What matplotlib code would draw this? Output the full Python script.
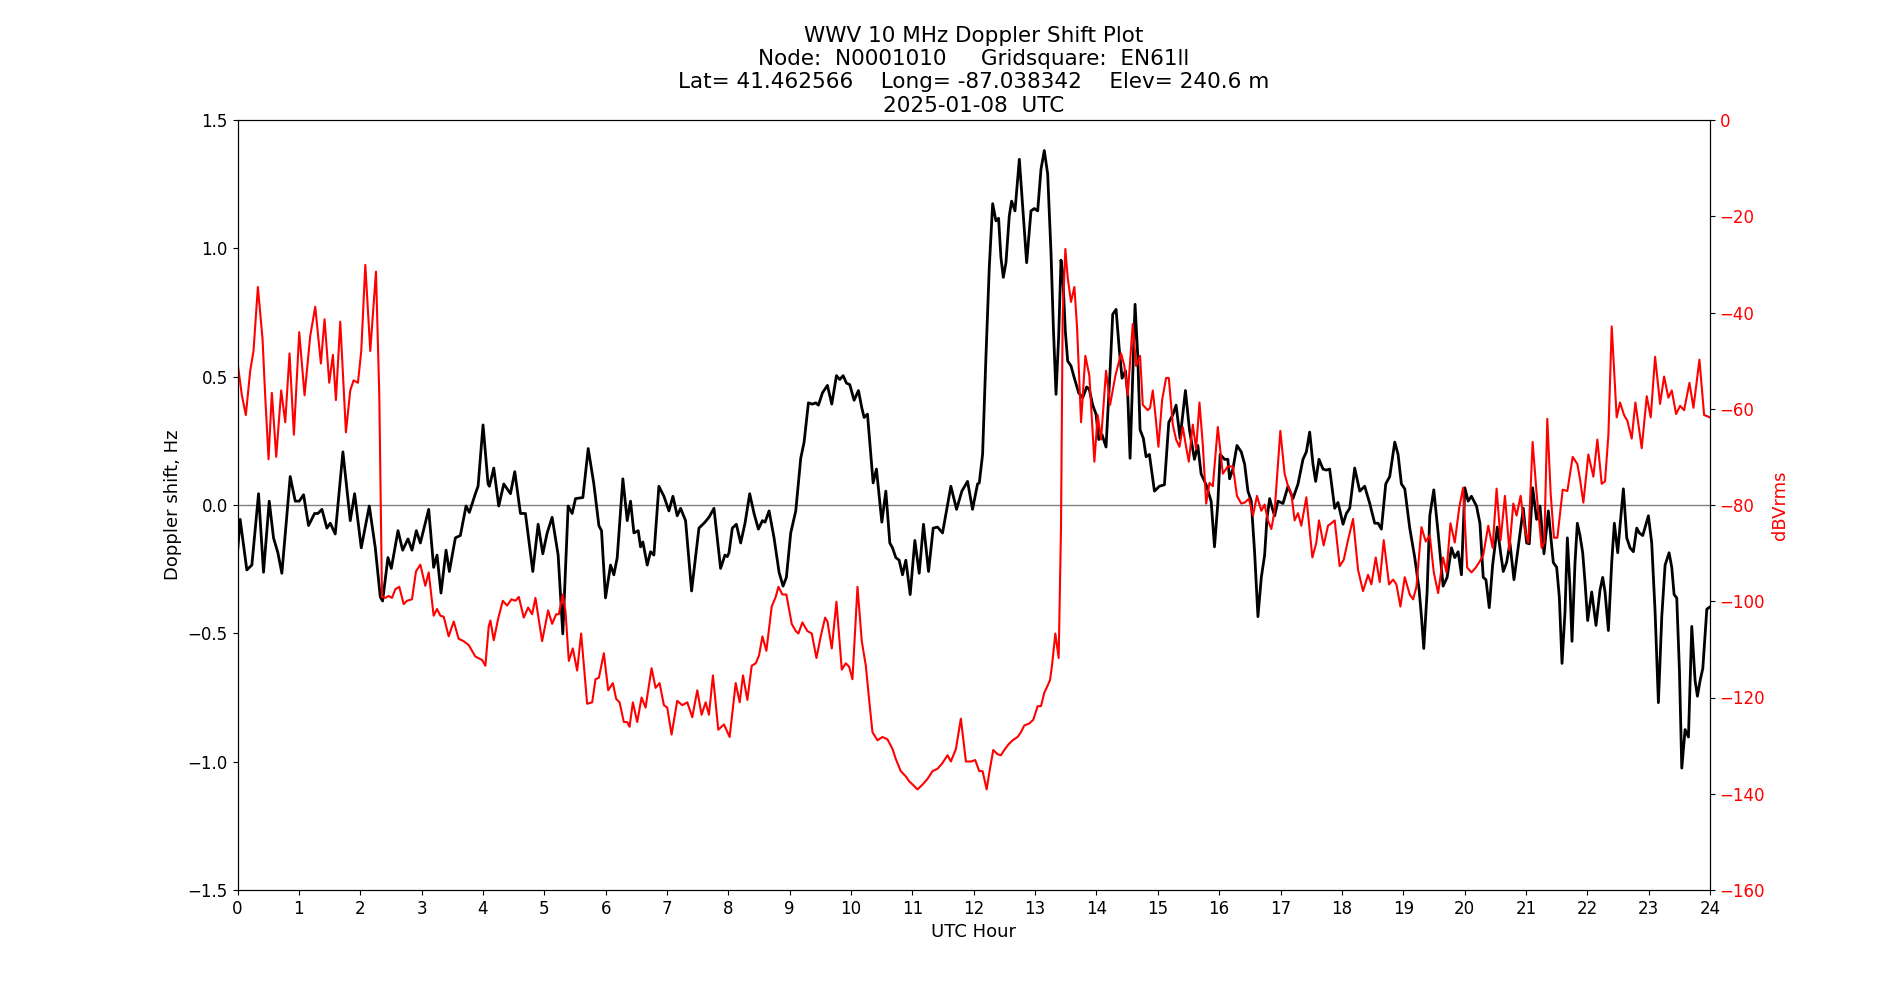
import matplotlib
matplotlib.use("Agg")
import matplotlib.pyplot as plt

# Doppler shift (Hz)
dop_hours = [
    0.000, 0.043, 0.152, 0.234, 0.343, 0.424, 0.517, 0.587, 0.658, 0.723,
    0.859, 0.941, 1.006, 1.077, 1.158, 1.256, 1.311, 1.376, 1.457, 1.512,
    1.593, 1.718, 1.838, 1.909, 2.017, 2.148, 2.246, 2.327, 2.365, 2.452,
    2.507, 2.616, 2.692, 2.779, 2.844, 2.915, 2.980, 3.116, 3.197, 3.252,
    3.317, 3.399, 3.453, 3.551, 3.632, 3.725, 3.779, 3.877, 3.921, 4.002,
    4.084, 4.106, 4.177, 4.258, 4.340, 4.449, 4.519, 4.612, 4.693, 4.813,
    4.900, 4.976, 5.047, 5.128, 5.226, 5.302, 5.389, 5.455, 5.509, 5.629,
    5.716, 5.808, 5.890, 5.933, 5.998, 6.080, 6.134, 6.189, 6.281, 6.352,
    6.406, 6.461, 6.531, 6.569, 6.607, 6.678, 6.732, 6.787, 6.868, 6.950,
    7.032, 7.097, 7.167, 7.222, 7.303, 7.401, 7.521, 7.619, 7.684, 7.766,
    7.874, 7.945, 7.983, 8.011, 8.065, 8.131, 8.201, 8.272, 8.348, 8.419,
    8.490, 8.555, 8.598, 8.664, 8.745, 8.827, 8.892, 8.946, 9.017, 9.099,
    9.180, 9.235, 9.305, 9.370, 9.425, 9.468, 9.534, 9.615, 9.686, 9.762,
    9.816, 9.871, 9.925, 9.979, 10.050, 10.121, 10.175, 10.213, 10.268, 10.360,
    10.414, 10.502, 10.567, 10.632, 10.676, 10.730, 10.784, 10.839, 10.893, 10.964,
    11.040, 11.111, 11.181, 11.263, 11.339, 11.410, 11.491, 11.627, 11.720, 11.806,
    11.899, 11.980, 12.062, 12.090, 12.144, 12.199, 12.253, 12.308, 12.362, 12.405,
    12.443, 12.482, 12.525, 12.579, 12.617, 12.672, 12.743, 12.797, 12.862, 12.933,
    12.987, 13.042, 13.096, 13.150, 13.205, 13.259, 13.297, 13.341, 13.384, 13.422,
    13.449, 13.493, 13.531, 13.585, 13.640, 13.710, 13.776, 13.841, 13.884, 13.939,
    13.993, 14.037, 14.091, 14.156, 14.222, 14.265, 14.320, 14.374, 14.417, 14.472,
    14.510, 14.548, 14.591, 14.629, 14.673, 14.711, 14.765, 14.809, 14.863, 14.945,
    15.026, 15.108, 15.179, 15.244, 15.298, 15.363, 15.450, 15.516, 15.597, 15.652,
    15.706, 15.788, 15.869, 15.924, 15.978, 16.016, 16.087, 16.141, 16.170, 16.224,
    16.290, 16.360, 16.415, 16.469, 16.523, 16.578, 16.632, 16.687, 16.741, 16.779,
    16.823, 16.866, 16.904, 16.958, 17.040, 17.122, 17.203, 17.285, 17.366, 17.421,
    17.475, 17.529, 17.573, 17.627, 17.693, 17.747, 17.801, 17.883, 17.937, 18.019,
    18.073, 18.128, 18.209, 18.291, 18.372, 18.454, 18.535, 18.590, 18.644, 18.715,
    18.780, 18.862, 18.916, 18.970, 19.025, 19.106, 19.188, 19.259, 19.297, 19.335,
    19.389, 19.433, 19.498, 19.569, 19.650, 19.715, 19.786, 19.840, 19.895, 19.949,
    20.004, 20.058, 20.112, 20.194, 20.250, 20.304, 20.348, 20.402, 20.457, 20.533,
    20.587, 20.631, 20.685, 20.739, 20.805, 20.875, 20.957, 21.011, 21.055, 21.109,
    21.174, 21.229, 21.294, 21.365, 21.446, 21.501, 21.544, 21.588, 21.637, 21.675,
    21.718, 21.751, 21.800, 21.838, 21.881, 21.925, 21.963, 22.006, 22.072, 22.142,
    22.208, 22.251, 22.289, 22.344, 22.398, 22.441, 22.496, 22.534, 22.588, 22.643,
    22.697, 22.751, 22.806, 22.849, 22.904, 22.996, 23.050, 23.105, 23.159, 23.214,
    23.268, 23.333, 23.377, 23.415, 23.458, 23.502, 23.540, 23.594, 23.649, 23.703,
    23.757, 23.795, 23.839, 23.883, 23.948, 24.000,
]
doppler = [
    -0.186, -0.056, -0.253, -0.234, 0.044, -0.262, 0.015, -0.128, -0.186, -0.266,
    0.111, 0.015, 0.015, 0.040, -0.080, -0.033, -0.033, -0.017, -0.090, -0.071,
    -0.113, 0.207, -0.061, 0.044, -0.167, -0.004, -0.167, -0.358, -0.374, -0.205,
    -0.247, -0.100, -0.176, -0.132, -0.176, -0.100, -0.148, -0.017, -0.243, -0.195,
    -0.343, -0.176, -0.259, -0.128, -0.119, -0.004, -0.029, 0.044, 0.073, 0.312,
    0.082, 0.073, 0.144, -0.004, 0.082, 0.044, 0.130, -0.033, -0.033, -0.259,
    -0.075, -0.190, -0.109, -0.048, -0.195, -0.502, -0.004, -0.033, 0.025, 0.029,
    0.220, 0.082, -0.080, -0.100, -0.362, -0.234, -0.272, -0.205, 0.102, -0.061,
    0.015, -0.109, -0.100, -0.163, -0.144, -0.234, -0.182, -0.195, 0.073, 0.034,
    -0.023, 0.034, -0.042, -0.013, -0.061, -0.335, -0.090, -0.067, -0.048, -0.013,
    -0.247, -0.195, -0.201, -0.186, -0.090, -0.075, -0.148, -0.071, 0.044, -0.033,
    -0.094, -0.061, -0.067, -0.023, -0.128, -0.262, -0.316, -0.282, -0.109, -0.023,
    0.182, 0.245, 0.398, 0.393, 0.398, 0.389, 0.437, 0.466, 0.393, 0.504,
    0.489, 0.504, 0.475, 0.469, 0.408, 0.446, 0.379, 0.341, 0.354, 0.086,
    0.140, -0.067, 0.054, -0.148, -0.167, -0.205, -0.215, -0.272, -0.215, -0.349,
    -0.138, -0.266, -0.075, -0.259, -0.090, -0.086, -0.109, 0.073, -0.017, 0.054,
    0.092, -0.017, 0.082, 0.086, 0.197, 0.580, 0.925, 1.174, 1.107, 1.117,
    0.964, 0.887, 0.944, 1.126, 1.184, 1.146, 1.347, 1.165, 0.944, 1.146,
    1.155, 1.146, 1.308, 1.381, 1.289, 0.983, 0.695, 0.431, 0.657, 0.954,
    0.906, 0.676, 0.561, 0.542, 0.494, 0.437, 0.418, 0.460, 0.450, 0.389,
    0.354, 0.255, 0.274, 0.226, 0.523, 0.743, 0.762, 0.600, 0.494, 0.523,
    0.427, 0.182, 0.504, 0.782, 0.580, 0.293, 0.259, 0.188, 0.197, 0.054,
    0.073, 0.079, 0.322, 0.351, 0.389, 0.259, 0.446, 0.293, 0.178, 0.232,
    0.121, 0.079, 0.015, -0.163, 0.006, 0.197, 0.178, 0.178, 0.102, 0.140,
    0.232, 0.207, 0.159, 0.054, 0.015, -0.186, -0.435, -0.282, -0.195, -0.052,
    0.025, -0.013, -0.042, 0.015, 0.006, 0.073, 0.025, 0.082, 0.178, 0.207,
    0.284, 0.159, 0.092, 0.178, 0.140, 0.136, 0.140, -0.013, 0.010, -0.075,
    -0.033, -0.013, 0.144, 0.054, 0.073, 0.006, -0.071, -0.071, -0.094, 0.082,
    0.111, 0.245, 0.197, 0.082, 0.063, -0.090, -0.205, -0.330, -0.435, -0.559,
    -0.339, -0.042, 0.059, -0.109, -0.316, -0.282, -0.167, -0.205, -0.182, -0.272,
    0.067, 0.015, 0.034, -0.004, -0.071, -0.282, -0.291, -0.400, -0.234, -0.086,
    -0.186, -0.259, -0.224, -0.148, -0.291, -0.163, -0.013, -0.148, -0.151, 0.067,
    -0.056, -0.004, -0.190, -0.023, -0.224, -0.243, -0.358, -0.617, -0.416, -0.128,
    -0.320, -0.531, -0.224, -0.071, -0.119, -0.186, -0.301, -0.450, -0.339, -0.469,
    -0.330, -0.282, -0.339, -0.489, -0.224, -0.071, -0.186, -0.080, 0.063, -0.128,
    -0.167, -0.182, -0.090, -0.109, -0.119, -0.042, -0.148, -0.416, -0.770, -0.435,
    -0.234, -0.186, -0.243, -0.349, -0.362, -0.646, -1.025, -0.875, -0.904, -0.473,
    -0.684, -0.745, -0.684, -0.636, -0.406, -0.397,
]

# Received level (dBVrms)
pwr_hours = [
    0.000, 0.071, 0.136, 0.207, 0.261, 0.332, 0.408, 0.451, 0.506, 0.560,
    0.631, 0.712, 0.778, 0.848, 0.919, 1.006, 1.093, 1.185, 1.267, 1.359,
    1.419, 1.495, 1.555, 1.604, 1.675, 1.767, 1.838, 1.892, 1.963, 2.017,
    2.083, 2.164, 2.257, 2.311, 2.355, 2.409, 2.463, 2.518, 2.572, 2.637,
    2.708, 2.762, 2.844, 2.909, 2.980, 3.061, 3.116, 3.197, 3.252, 3.306,
    3.361, 3.442, 3.524, 3.605, 3.687, 3.768, 3.877, 3.986, 4.040, 4.095,
    4.122, 4.177, 4.247, 4.324, 4.394, 4.465, 4.530, 4.585, 4.666, 4.737,
    4.802, 4.856, 4.965, 5.063, 5.128, 5.194, 5.237, 5.302, 5.346, 5.400,
    5.465, 5.536, 5.601, 5.699, 5.781, 5.835, 5.890, 5.971, 6.042, 6.118,
    6.172, 6.227, 6.297, 6.352, 6.390, 6.444, 6.515, 6.586, 6.651, 6.749,
    6.814, 6.879, 6.950, 7.004, 7.075, 7.167, 7.249, 7.331, 7.412, 7.494,
    7.564, 7.630, 7.684, 7.749, 7.836, 7.929, 8.021, 8.120, 8.185, 8.239,
    8.310, 8.381, 8.446, 8.500, 8.555, 8.620, 8.707, 8.772, 8.816, 8.881,
    8.946, 9.033, 9.099, 9.142, 9.207, 9.289, 9.360, 9.436, 9.506, 9.577,
    9.615, 9.686, 9.762, 9.849, 9.914, 9.969, 10.023, 10.105, 10.175, 10.241,
    10.295, 10.349, 10.431, 10.512, 10.594, 10.676, 10.730, 10.811, 10.893, 10.947,
    11.029, 11.083, 11.165, 11.247, 11.328, 11.410, 11.480, 11.573, 11.627, 11.709,
    11.790, 11.872, 11.953, 12.024, 12.089, 12.144, 12.210, 12.264, 12.318, 12.389,
    12.443, 12.498, 12.569, 12.634, 12.715, 12.770, 12.824, 12.906, 12.971, 13.042,
    13.096, 13.150, 13.205, 13.243, 13.275, 13.330, 13.384, 13.422, 13.449, 13.493,
    13.531, 13.585, 13.640, 13.683, 13.749, 13.819, 13.884, 13.966, 14.020, 14.075,
    14.156, 14.222, 14.309, 14.401, 14.455, 14.510, 14.591, 14.646, 14.711, 14.755,
    14.836, 14.874, 14.918, 14.961, 15.010, 15.070, 15.135, 15.179, 15.244, 15.298,
    15.353, 15.407, 15.461, 15.505, 15.570, 15.625, 15.679, 15.733, 15.788, 15.842,
    15.897, 15.978, 16.060, 16.141, 16.224, 16.290, 16.360, 16.415, 16.485, 16.551,
    16.616, 16.687, 16.741, 16.795, 16.850, 16.904, 16.997, 17.067, 17.122, 17.176,
    17.230, 17.285, 17.339, 17.421, 17.519, 17.584, 17.627, 17.703, 17.774, 17.829,
    17.883, 17.964, 18.030, 18.100, 18.182, 18.264, 18.345, 18.427, 18.481, 18.552,
    18.617, 18.682, 18.769, 18.835, 18.889, 18.954, 19.025, 19.106, 19.161, 19.215,
    19.297, 19.367, 19.433, 19.498, 19.569, 19.650, 19.705, 19.770, 19.840, 19.911,
    19.976, 20.042, 20.112, 20.183, 20.248, 20.304, 20.386, 20.457, 20.522, 20.587,
    20.658, 20.729, 20.794, 20.848, 20.913, 20.984, 21.038, 21.109, 21.174, 21.256,
    21.299, 21.348, 21.403, 21.457, 21.512, 21.599, 21.675, 21.762, 21.838, 21.881,
    21.936, 22.017, 22.099, 22.164, 22.235, 22.289, 22.344, 22.398, 22.479, 22.534,
    22.599, 22.653, 22.724, 22.784, 22.887, 22.969, 23.034, 23.105, 23.186, 23.252,
    23.322, 23.377, 23.447, 23.513, 23.578, 23.665, 23.730, 23.828, 23.904, 24.000,
]
power = [
    -50.3, -57.2, -61.3, -52.1, -48.0, -34.7, -45.5, -57.2, -70.5, -56.7,
    -70.0, -56.2, -62.8, -48.5, -65.4, -44.1, -57.2, -44.9, -38.8, -50.6,
    -41.4, -54.6, -48.8, -58.2, -41.9, -64.9, -56.2, -54.1, -54.6, -48.0,
    -30.1, -48.0, -31.5, -57.2, -99.1, -99.3, -98.9, -99.3, -97.5, -97.0,
    -100.6, -99.9, -99.6, -93.8, -92.4, -96.8, -94.0, -103.0, -101.6, -103.0,
    -103.2, -107.3, -104.2, -107.8, -108.3, -109.1, -111.5, -112.2, -113.4, -105.2,
    -104.0, -108.1, -103.7, -99.9, -100.9, -99.6, -99.9, -99.1, -103.4, -101.3,
    -102.7, -99.3, -108.3, -101.9, -104.7, -102.7, -102.7, -98.6, -102.1, -112.4,
    -109.8, -114.4, -106.7, -121.3, -121.0, -116.2, -115.9, -110.8, -118.5, -117.0,
    -120.3, -121.0, -125.1, -125.1, -126.1, -121.0, -125.1, -120.0, -122.1, -113.9,
    -118.0, -117.0, -121.6, -122.1, -127.7, -120.7, -121.6, -121.0, -124.1, -118.5,
    -123.6, -121.0, -123.6, -115.4, -126.7, -125.6, -128.2, -117.0, -121.0, -115.4,
    -120.5, -113.4, -112.9, -111.3, -107.3, -110.3, -101.1, -99.1, -97.0, -98.6,
    -98.6, -104.7, -106.2, -106.7, -104.4, -106.2, -106.7, -111.8, -107.3, -103.4,
    -104.2, -109.8, -100.1, -114.2, -112.9, -113.6, -116.2, -97.0, -108.3, -113.4,
    -120.5, -127.2, -128.9, -128.2, -128.7, -130.7, -132.8, -135.3, -136.4, -137.4,
    -138.4, -139.1, -138.1, -136.9, -135.3, -134.8, -133.8, -132.0, -133.3, -130.7,
    -124.4, -133.3, -133.3, -133.0, -135.3, -135.3, -139.1, -134.8, -130.9, -131.8,
    -132.0, -130.9, -129.7, -128.9, -128.2, -127.2, -125.8, -125.4, -124.6, -121.8,
    -121.8, -119.0, -117.5, -116.4, -113.4, -106.7, -111.8, -84.8, -40.9, -26.8,
    -32.7, -37.8, -34.7, -42.9, -62.8, -49.0, -53.1, -71.0, -61.3, -66.4,
    -52.1, -59.2, -53.1, -48.5, -51.1, -57.2, -42.4, -51.1, -49.0, -59.2,
    -60.3, -59.8, -56.2, -61.3, -67.9, -58.2, -53.6, -53.6, -63.3, -66.4,
    -67.9, -63.8, -67.9, -71.0, -63.3, -68.4, -58.7, -67.4, -79.7, -75.4,
    -76.1, -63.8, -73.5, -72.0, -72.0, -78.1, -79.7, -79.5, -78.7, -82.2,
    -78.1, -81.2, -79.9, -83.2, -85.0, -81.2, -64.6, -73.5, -76.1, -77.6,
    -83.2, -81.7, -84.3, -78.4, -90.9, -87.8, -83.2, -88.4, -84.3, -83.8,
    -83.2, -92.7, -91.4, -87.3, -82.9, -93.5, -97.9, -94.5, -96.5, -90.9,
    -96.0, -87.3, -96.5, -95.5, -96.5, -101.1, -95.0, -98.6, -99.6, -97.0,
    -84.6, -87.6, -86.3, -94.0, -98.3, -90.9, -94.0, -83.8, -87.8, -80.7,
    -76.4, -93.0, -94.0, -93.0, -91.7, -90.4, -84.3, -88.9, -76.6, -87.3,
    -78.1, -89.4, -79.7, -82.2, -78.1, -85.3, -87.8, -66.9, -77.6, -88.9,
    -87.8, -62.1, -77.6, -86.8, -86.8, -76.8, -77.1, -70.0, -71.5, -74.6,
    -79.5, -69.5, -74.1, -66.4, -75.6, -75.1, -65.4, -42.9, -61.8, -58.7,
    -61.3, -62.5, -66.2, -58.7, -68.2, -57.4, -61.8, -49.2, -59.0, -53.3,
    -57.7, -56.2, -61.1, -59.4, -60.3, -54.6, -59.8, -49.8, -61.3, -61.8,
]

hour_ticks = list(range(0, 25))
dop_ticks = [-1.5, -1.0, -0.5, 0.0, 0.5, 1.0, 1.5]
pwr_ticks = list(range(-160, 1, 20))

title = ("WWV 10 MHz Doppler Shift Plot\n"
         "Node:  N0001010     Gridsquare:  EN61ll\n"
         "Lat= 41.462566    Long= -87.038342    Elev= 240.6 m\n"
         "2025-01-08  UTC")

fig, ax1 = plt.subplots(figsize=(19, 10), dpi=100)
ax2 = ax1.twinx()

ax1.axhline(0, color="grey", linewidth=1)
ax1.plot(dop_hours, doppler, color="black", linewidth=2)
ax2.plot(pwr_hours, power, color="red", linewidth=1.5)

ax1.set_xlim(0, 24)
ax1.set_xticks(hour_ticks)
ax1.set_ylim(-1.5, 1.5)
ax1.set_yticks(dop_ticks)
ax2.set_ylim(-160, 0)
ax2.set_yticks(pwr_ticks)

ax1.tick_params(labelsize=12)
ax2.tick_params(labelsize=12, labelcolor="red")
ax1.set_xlabel("UTC Hour", fontsize=13)
ax1.set_ylabel("Doppler shift, Hz", fontsize=13)
ax2.set_ylabel("dBVrms", color="red", fontsize=13)
ax1.set_title(title, fontsize=15.5)

fig.savefig("out.png")
